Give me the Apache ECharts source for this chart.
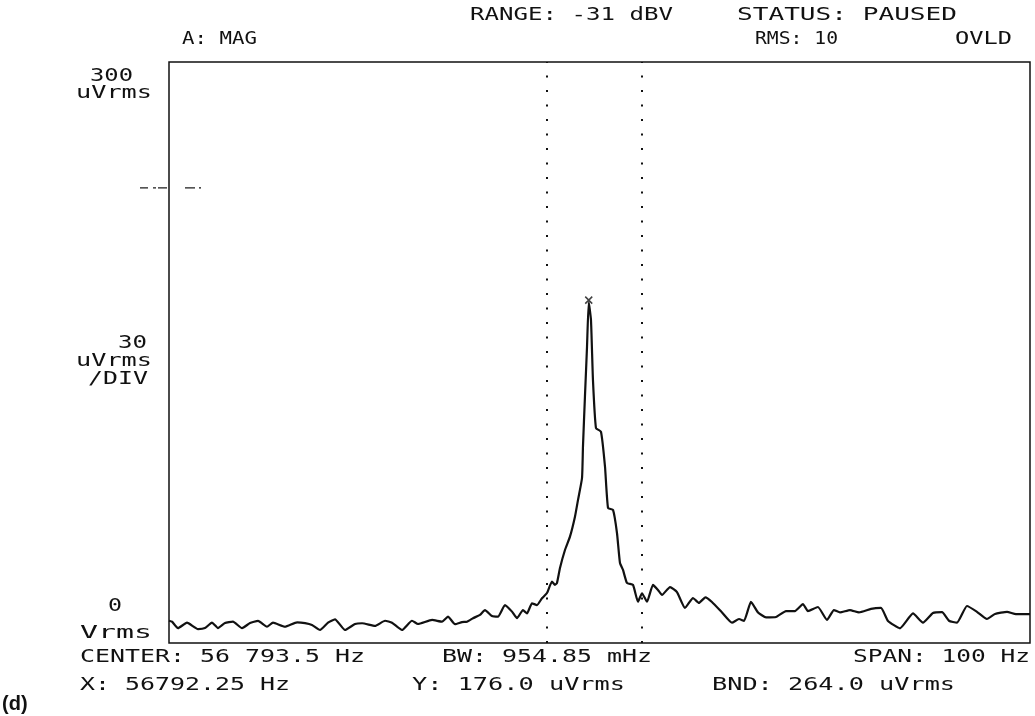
<!DOCTYPE html>
<html>
<head>
<meta charset="utf-8">
<style>
  html, body { margin: 0; padding: 0; background: #fff; }
  #main { width: 1035px; height: 716px; }
</style>
<script src="https://cdn.jsdelivr.net/npm/echarts@6/dist/echarts.min.js"></script>
</head>
<body>
<div id="main"></div>
<script>
// trace: frequency (Hz) and magnitude (uVrms)
var freqHz = [
  56743.50, 56743.85, 56744.55, 56745.59, 56746.87, 56747.68, 56748.49, 56749.19, 56750.00, 56750.93,
  56751.98, 56752.91, 56753.84, 56754.88, 56755.58, 56756.97, 56758.37, 56759.30, 56760.11, 56761.04,
  56761.97, 56762.78, 56763.94, 56765.10, 56765.92, 56767.43, 56768.59, 56769.40, 56770.56, 56771.72,
  56772.42, 56774.05, 56775.21, 56775.90, 56776.72, 56777.53, 56778.11, 56778.81, 56779.62, 56780.20,
  56781.01, 56781.71, 56782.52, 56783.34, 56783.92, 56784.61, 56785.08, 56785.66, 56786.24, 56786.82,
  56787.40, 56787.98, 56788.33, 56788.56, 56788.91, 56789.49, 56790.07, 56790.65, 56791.00, 56791.47,
  56791.58, 56791.81, 56792.05, 56792.25, 56792.51, 56792.74, 56793.09, 56793.67, 56794.14, 56794.49,
  56795.07, 56795.53, 56795.88, 56796.23, 56796.69, 56797.39, 56797.97, 56798.44, 56799.02, 56799.71,
  56800.29, 56800.76, 56801.69, 56802.50, 56803.43, 56804.36, 56805.05, 56805.80, 56806.56, 56807.73,
  56808.89, 56809.70, 56810.28, 56811.09, 56811.91, 56812.84, 56814.00, 56815.16, 56816.20, 56817.13,
  56817.71, 56818.87, 56819.92, 56820.73, 56821.43, 56822.59, 56823.64, 56825.03, 56826.19, 56827.01,
  56828.40, 56829.91, 56831.07, 56832.23, 56833.28, 56834.09, 56835.02, 56836.18, 56837.34, 56838.50,
  56839.43, 56840.83, 56841.87, 56842.80, 56843.50
];
var magUv = [
  11.5, 11.0, 7.7, 10.5, 7.2, 7.7, 10.5, 7.7, 10.3, 11.0,
  7.7, 10.3, 11.4, 8.4, 10.5, 8.4, 10.7, 10.3, 9.3, 6.7,
  10.5, 12.2, 6.7, 9.8, 10.2, 8.8, 11.5, 10.5, 6.7, 11.5,
  9.8, 11.9, 11.0, 13.6, 9.7, 10.8, 11.0, 12.8, 14.5, 17.0,
  13.9, 13.6, 19.6, 16.2, 12.8, 17.0, 15.3, 20.5, 19.6, 23.1,
  25.8, 31.7, 30.0, 31.0, 38.7, 48.0, 54.9, 65.2, 73.8, 85.2,
  101.4, 127.2, 153.0, 176.0, 166.8, 135.8, 111.0, 109.1, 91.0, 69.7,
  68.7, 56.8, 41.3, 37.7, 31.0, 30.0, 21.3, 25.7, 21.3, 30.0,
  27.4, 24.8, 28.9, 26.3, 18.1, 23.2, 20.7, 23.6, 21.2, 15.8,
  10.5, 12.4, 11.4, 21.2, 15.8, 13.2, 13.4, 16.5, 16.5, 20.1,
  16.5, 18.6, 11.9, 17.0, 15.8, 17.0, 15.8, 17.6, 18.1, 11.4,
  7.6, 15.3, 10.5, 15.5, 15.9, 11.5, 10.5, 19.1, 16.1, 12.4,
  15.0, 16.1, 14.9, 14.9, 14.9
];

var centerHz = 56793.5;
var spanHz = 100;
var fullScale = 300;
var perDiv = 30;
var markerX = 56792.25;
var markerY = 176.0;
var bandEdges = [56787.4, 56798.4];
var refLevel = 235;

var headerTexts = ['RANGE: -31 dBV', 'STATUS: PAUSED', 'A: MAG', 'RMS: 10', 'OVLD'];
var axisTexts = ['300', 'uVrms', '30', 'uVrms', '/DIV', '0', 'Vrms'];
var footerTexts = ['CENTER: 56 793.5 Hz', 'BW: 954.85 mHz', 'SPAN: 100 Hz',
  'X: 56792.25 Hz', 'Y: 176.0 uVrms', 'BND: 264.0 uVrms'];

var ink = '#111';
var monoFont = '18px "DejaVu Sans Mono"';

// stretch each screen legend horizontally so it spans from x0 to x1
var measureCtx = document.createElement('canvas').getContext('2d');
measureCtx.font = monoFont;
function txt(s, x0, x1, y) {
  var w = measureCtx.measureText(s).width;
  return {
    type: 'text', x: x0, y: y, scaleX: (x1 - x0) / w,
    style: { text: s, font: monoFont, fill: ink, align: 'left', verticalAlign: 'middle' }
  };
}

var chart = echarts.init(document.getElementById('main'), null, { renderer: 'canvas' });

var trace = freqHz.map(function (f, i) { return [f, magUv[i]]; });

var option = {
  backgroundColor: '#fff',
  animation: false,
  grid: {
    left: 169, right: 5, top: 62, bottom: 73,
    show: true, borderColor: ink, borderWidth: 1.5
  },
  xAxis: {
    type: 'value',
    min: centerHz - spanHz / 2,
    max: centerHz + spanHz / 2,
    axisLine: { show: false },
    axisTick: { show: false },
    axisLabel: { show: false },
    splitLine: { show: false }
  },
  yAxis: {
    type: 'value',
    min: 0, max: fullScale, interval: perDiv,
    axisLine: { show: false },
    axisTick: { show: false },
    axisLabel: { show: false },
    splitLine: { show: false }
  },
  series: [
    {
      type: 'line',
      data: trace,
      symbol: 'none',
      smooth: 0.15,
      lineStyle: { color: ink, width: 2.2 },
      markLine: {
        silent: true,
        symbol: 'none',
        label: { show: false },
        lineStyle: { color: ink, width: 2, type: [2, 12.5] },
        data: bandEdges.map(function (f) { return { xAxis: f }; })
      }
    },
    {
      type: 'scatter',
      data: [[markerX, markerY]],
      symbol: 'path://M0,0L10,10M10,0L0,10',
      symbolSize: 7,
      symbolOffset: [0, -2],
      itemStyle: { color: 'none', borderColor: ink, borderWidth: 1.5 }
    }
  ],
  graphic: [
    txt(headerTexts[0], 470, 673, 15),
    txt(headerTexts[1], 737, 957, 15),
    txt(headerTexts[2], 182, 257, 39),
    txt(headerTexts[3], 755, 838, 39),
    txt(headerTexts[4], 955, 1012, 39),
    txt(axisTexts[0], 90, 133, 76),
    txt(axisTexts[1], 76, 152, 93),
    txt(axisTexts[2], 118, 147, 343),
    txt(axisTexts[3], 76, 152, 361),
    txt(axisTexts[4], 88, 148, 379),
    txt(axisTexts[5], 108, 122, 606),
    txt(axisTexts[6], 80, 152, 633),
    txt(footerTexts[0], 80, 365, 657),
    txt(footerTexts[1], 442, 652, 657),
    txt(footerTexts[2], 853, 1030, 657),
    txt(footerTexts[3], 80, 290, 685),
    txt(footerTexts[4], 412, 625, 685),
    txt(footerTexts[5], 712, 955, 685),
    {
      type: 'text', x: 2, y: 704,
      style: { text: '(d)', font: 'bold 20px "Liberation Sans"', fill: ink, verticalAlign: 'middle' }
    }
  ]
};

chart.setOption(option);

// short reference-level dashes straddling the left edge of the screen
var refY = chart.convertToPixel({ yAxisIndex: 0 }, refLevel);
var dashSegs = [[140, 148], [153, 156], [158, 167], [185, 195], [199, 201]];
chart.setOption({
  graphic: option.graphic.concat(dashSegs.map(function (s) {
    return {
      type: 'line',
      shape: { x1: s[0], y1: refY, x2: s[1], y2: refY },
      style: { stroke: ink, lineWidth: 1.2 }
    };
  }))
});
</script>
</body>
</html>
